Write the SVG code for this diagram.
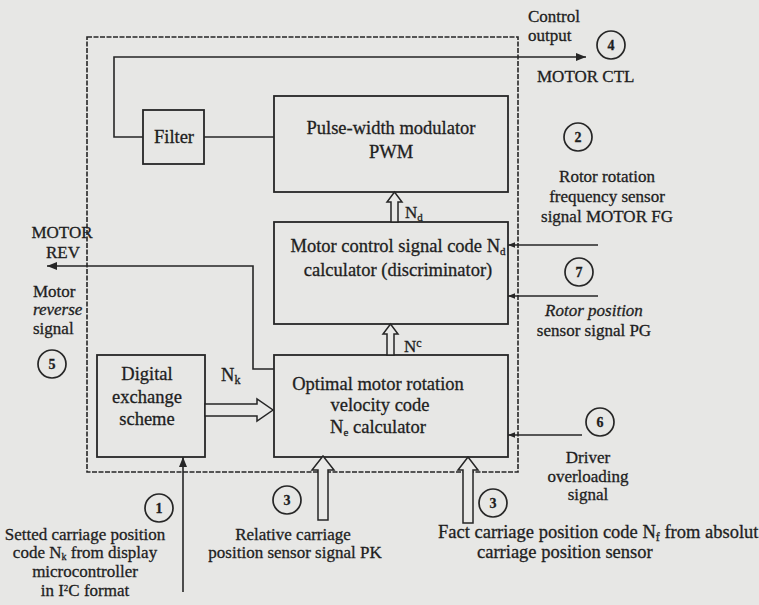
<svg xmlns="http://www.w3.org/2000/svg" width="759" height="605" viewBox="0 0 759 605">
<style>
text{font-family:"Liberation Serif","Times New Roman",serif;fill:#1e1e1e;stroke:#1e1e1e;stroke-width:0.3;font-size:17px}
.c{text-anchor:middle}
.b{font-size:18.5px}
.box{fill:none;stroke:#262626;stroke-width:1.8}
.ln{fill:none;stroke:#262626;stroke-width:1.6}
.hol{fill:#e9e9e7;stroke:#262626;stroke-width:1.5;stroke-linejoin:miter}
.circ{fill:none;stroke:#262626;stroke-width:1.7}
.num{font-size:14px;font-weight:bold;text-anchor:middle}
.it{font-style:italic}
</style>
<defs>
<marker id="ah" viewBox="0 0 10 10" refX="10" refY="5" markerWidth="7" markerHeight="7" markerUnits="userSpaceOnUse" orient="auto">
<path d="M0,1 L10,5 L0,9 Z" fill="#262626"/>
</marker>
<marker id="ahL" viewBox="0 0 10 10" refX="10" refY="5" markerWidth="12" markerHeight="10" markerUnits="userSpaceOnUse" orient="auto">
<path d="M0,1 L10,5 L0,9 Z" fill="#262626"/>
</marker>
</defs>
<rect width="759" height="605" fill="#e7e7e5"/>

<g id="boundary">
<rect x="87" y="37" width="431" height="435" fill="none" stroke="#262626" stroke-width="1.6" stroke-dasharray="5 1.5"/>
</g>

<g id="filter">
<rect class="box" x="143" y="110" width="61" height="54"/>
<text class="c b" x="174" y="143">Filter</text>
</g>

<g id="pwm">
<rect class="box" x="274" y="96" width="234" height="96"/>
<text class="c b" x="391" y="134">Pulse-width modulator</text>
<text class="c b" x="391" y="158">PWM</text>
</g>

<g id="discriminator">
<rect class="box" x="274" y="222" width="234" height="102"/>
<text class="c b" x="398" y="252">Motor control signal code N<tspan font-size="11" dy="3">d</tspan></text>
<text class="c b" x="398" y="276">calculator (discriminator)</text>
</g>

<g id="optimal">
<rect class="box" x="274" y="355" width="234" height="102"/>
<text class="c b" x="378" y="390">Optimal motor rotation</text>
<text class="c b" x="380" y="411">velocity code</text>
<text class="c b" x="378" y="433">N<tspan font-size="11" dy="3">e</tspan><tspan dy="-3"> calculator</tspan></text>
</g>

<g id="digital">
<rect class="box" x="97" y="355" width="108" height="102"/>
<text class="c b" x="147" y="380">Digital</text>
<text class="c b" x="147" y="403">exchange</text>
<text class="c b" x="147" y="425">scheme</text>
</g>

<g id="connectors">
<polyline class="ln" points="143,137 114,137 114,57 586,57" marker-end="url(#ahL)"/>
<line class="ln" x1="204" y1="137" x2="274" y2="137"/>
<polyline class="ln" points="274,369 253,369 253,266 47,266" marker-end="url(#ahL)"/>
<line class="ln" x1="598" y1="245" x2="508" y2="245" marker-end="url(#ah)"/>
<line class="ln" x1="598" y1="296" x2="508" y2="296" marker-end="url(#ah)"/>
<line class="ln" x1="582" y1="435" x2="508" y2="435" marker-end="url(#ah)"/>
<line class="ln" x1="183" y1="592" x2="183" y2="457" marker-end="url(#ahL)"/>
<polygon class="hol" points="391,222 391,202 387,202 394.5,192 402,202 398,202 398,222"/>
<polygon class="hol" points="387,355 387,334 383,334 390.5,324 398,334 394,334 394,355"/>
<polygon class="hol" points="205,404 257,404 257,399 273,410 257,421 257,416 205,416"/>
<polygon class="hol" points="318,520 318,470 312,470 323,456 334,470 328,470 328,520"/>
<polygon class="hol" points="463,523 463,470 458,470 468,457 478,470 473,470 473,523"/>
</g>

<g id="sig4">
<text x="528" y="22">Control</text>
<text x="528" y="41">output</text>
<circle class="circ" cx="611" cy="45" r="14"/>
<text class="num" x="611" y="50">4</text>
<text x="537" y="82">MOTOR CTL</text>
</g>

<g id="sig2">
<circle class="circ" cx="578" cy="137" r="14"/>
<text class="num" x="578" y="142">2</text>
<text class="c" x="607" y="182">Rotor rotation</text>
<text class="c" x="607" y="202">frequency sensor</text>
<text class="c" x="607" y="222">signal MOTOR FG</text>
</g>

<g id="sig7">
<circle class="circ" cx="579" cy="272" r="14"/>
<text class="num" x="579" y="277">7</text>
<text class="c it" x="594" y="316">Rotor position</text>
<text class="c" x="594" y="336">sensor signal PG</text>
</g>

<g id="sig6">
<circle class="circ" cx="600" cy="422" r="14"/>
<text class="num" x="600" y="427">6</text>
<text class="c" x="588" y="463">Driver</text>
<text class="c" x="588" y="482">overloading</text>
<text class="c" x="588" y="500">signal</text>
</g>

<g id="sig5">
<text class="c" x="62" y="238">MOTOR</text>
<text class="c" x="63" y="258">REV</text>
<text x="33" y="297">Motor</text>
<text class="it" x="33" y="315">reverse</text>
<text x="33" y="334">signal</text>
<circle class="circ" cx="52" cy="364" r="14"/>
<text class="num" x="52" y="369">5</text>
</g>

<g id="nlabels">
<text x="405" y="218">N<tspan font-size="11" dy="3">d</tspan></text>
<text x="404" y="352">N<tspan font-size="12" dy="-5">c</tspan></text>
<text x="221" y="381" style="font-size:18.5px">N<tspan font-size="12" dy="3">k</tspan></text>
</g>

<g id="sig1">
<circle class="circ" cx="159" cy="508" r="14"/>
<text class="num" x="159" y="513">1</text>
<text class="c" x="85" y="540">Setted carriage position</text>
<text class="c" x="85" y="558">code N<tspan font-size="10" dy="2">k</tspan><tspan dy="-2"> from display</tspan></text>
<text class="c" x="85" y="577">microcontroller</text>
<text class="c" x="85" y="596">in I<tspan font-size="9" dy="-5">2</tspan><tspan dy="5">C format</tspan></text>
</g>

<g id="sig3a">
<circle class="circ" cx="287" cy="500" r="14"/>
<text class="num" x="287" y="505">3</text>
<text class="c" x="293" y="540">Relative carriage</text>
<text class="c" x="295" y="558">position sensor signal PK</text>
</g>

<g id="sig3b">
<circle class="circ" cx="493" cy="503" r="14"/>
<text class="num" x="493" y="508">3</text>
<text x="438" y="538" style="font-size:18.5px">Fact carriage position code N<tspan font-size="12" dy="3">f</tspan><tspan dy="-3"> from absolut</tspan></text>
<text x="477" y="558" style="font-size:18.5px">carriage position sensor</text>
</g>
</svg>
